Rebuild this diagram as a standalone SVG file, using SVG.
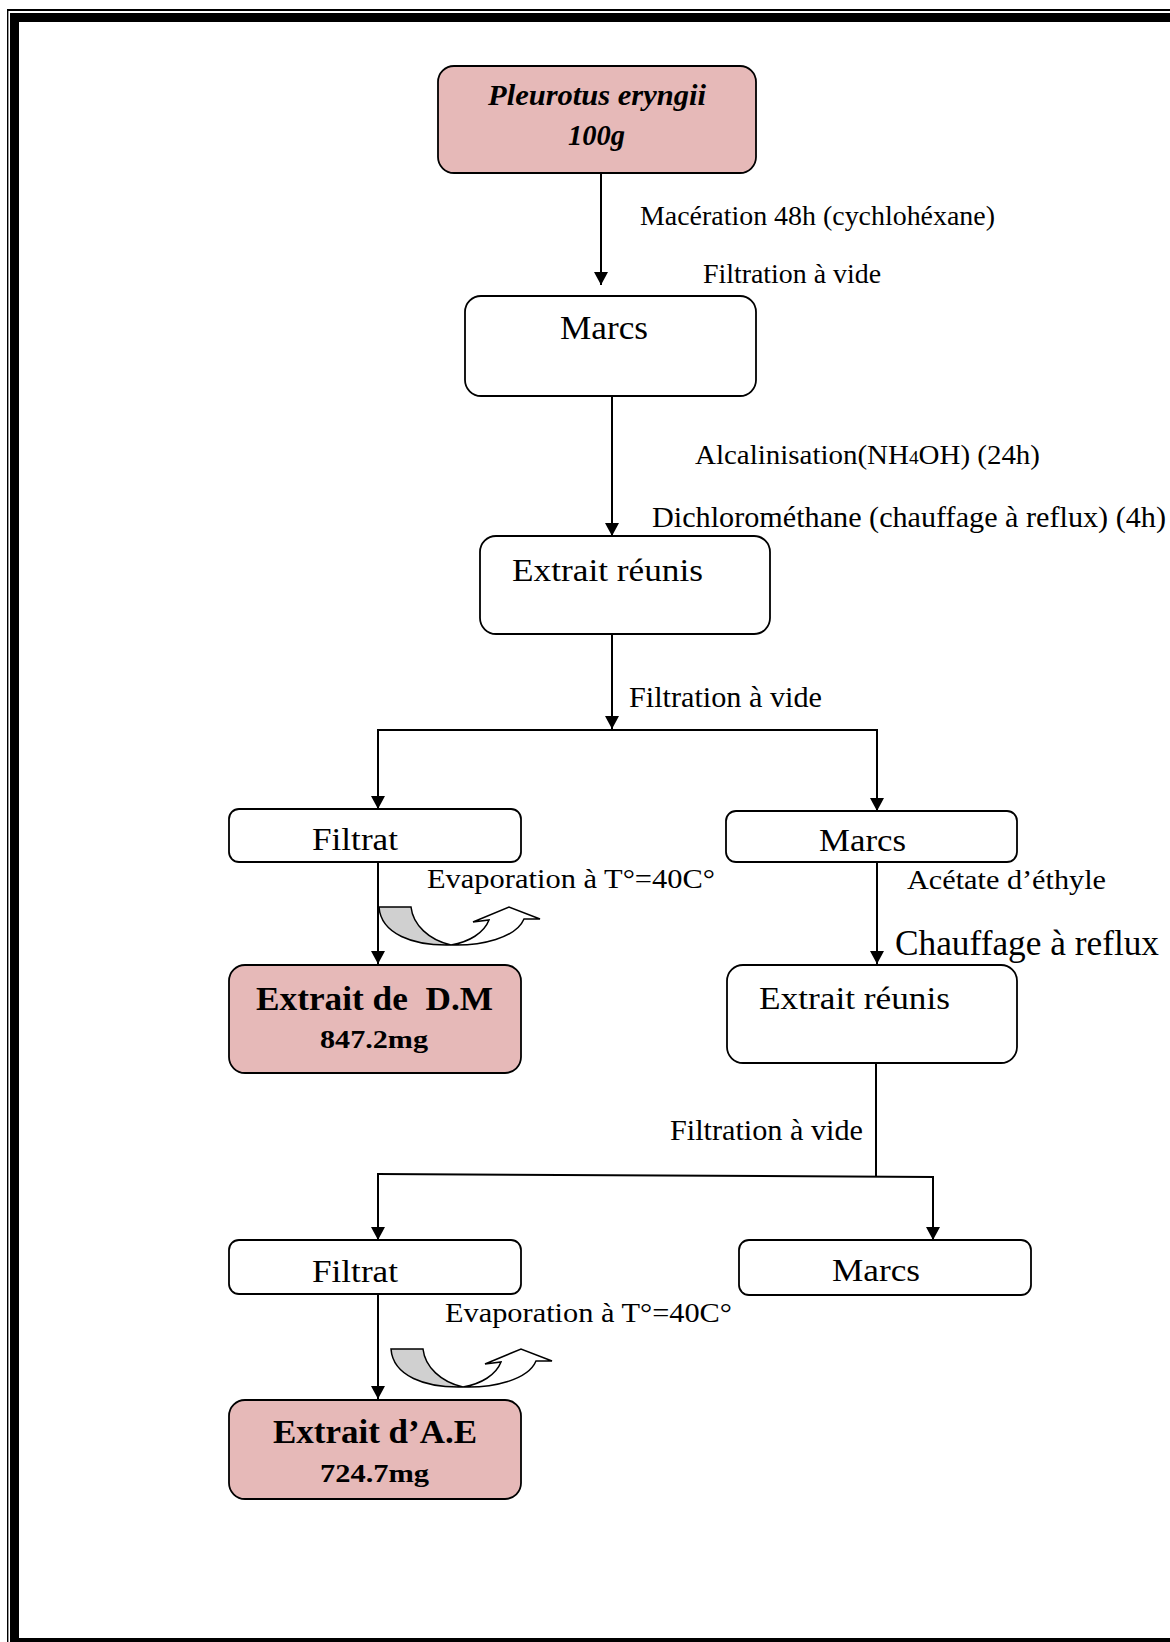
<svg xmlns="http://www.w3.org/2000/svg" xmlns:xlink="http://www.w3.org/1999/xlink" width="1170" height="1642" viewBox="0 0 1170 1642">
<style>
.box{fill:#fff;stroke:#000;stroke-width:1.8}
.pink{fill:#e6b9b8;stroke:#000;stroke-width:1.8}
.t{font-family:"Liberation Serif","Times New Roman",serif;fill:#000;white-space:pre}
.b{font-weight:bold}
.bi{font-weight:bold;font-style:italic}
.ln{fill:none;stroke:#000;stroke-width:2}
.arr{fill:none;stroke:#000;stroke-width:2;marker-end:url(#ah)}
</style>
<defs>
<marker id="ah" markerUnits="userSpaceOnUse" markerWidth="16" markerHeight="16" refX="13" refY="7" orient="auto">
<path d="M0,0 L13,7 L0,14 Z" fill="#000"/>
</marker>
<g id="evap">
<path d="M0,0 H32 C34,18 50,33 72,38 C34,39 2,27 0,0 Z" fill="#d0d0d0" stroke="#000" stroke-width="1.5"/>
<path d="M72,38 C102,39 137,31 145,12 L161,12 L130,0 L94,15 L110,13 C105,26 90,35 72,38 Z" fill="#fff" stroke="#000" stroke-width="1.5"/>
</g>
<clipPath id="clipAE"><rect x="229" y="1400" width="292" height="87"/></clipPath>
</defs>
<rect width="1170" height="1642" fill="#fff"/>
<g id="border" fill="#000">
<rect x="7" y="9" width="1.4" height="1633"/>
<rect x="7" y="9" width="1163" height="2"/>
<rect x="10" y="13" width="9" height="1629"/>
<rect x="10" y="13" width="1160" height="9"/>
<rect x="10" y="1638" width="1160" height="4"/>
</g>
<g id="connectors">
<line class="arr" x1="601" y1="173" x2="601" y2="285"/>
<line class="arr" x1="612" y1="396" x2="612" y2="536"/>
<line class="arr" x1="612" y1="634" x2="612" y2="729"/>
<line class="ln" x1="377" y1="730" x2="878" y2="730"/>
<line class="arr" x1="378" y1="730" x2="378" y2="809"/>
<line class="arr" x1="877" y1="729" x2="877" y2="811"/>
<line class="arr" x1="378" y1="862" x2="378" y2="964"/>
<line class="arr" x1="877" y1="862" x2="877" y2="964"/>
<line class="ln" x1="876" y1="1063" x2="876" y2="1176"/>
<polyline class="ln" points="377,1174 933,1177"/>
<line class="arr" x1="378" y1="1173" x2="378" y2="1240"/>
<line class="arr" x1="933" y1="1176" x2="933" y2="1240"/>
<line class="arr" x1="378" y1="1294" x2="378" y2="1399"/>
</g>
<g id="labels">
<text class="t" x="640" y="225" font-size="27" textLength="355" lengthAdjust="spacingAndGlyphs">Macération 48h (cychlohéxane)</text>
<text class="t" x="703" y="283" font-size="27" textLength="178" lengthAdjust="spacingAndGlyphs">Filtration à vide</text>
<text class="t" x="695" y="464" font-size="27" textLength="345" lengthAdjust="spacingAndGlyphs">Alcalinisation(NH<tspan font-size="18">4</tspan>OH) (24h)</text>
<text class="t" x="652" y="527" font-size="29" textLength="514" lengthAdjust="spacingAndGlyphs">Dichlorométhane (chauffage à reflux) (4h)</text>
<text class="t" x="629" y="707" font-size="29" textLength="193" lengthAdjust="spacingAndGlyphs">Filtration à vide</text>
<text class="t" x="427" y="888" font-size="27" textLength="288" lengthAdjust="spacingAndGlyphs">Evaporation à T°=40C°</text>
<text class="t" x="907" y="889" font-size="27" textLength="199" lengthAdjust="spacingAndGlyphs">Acétate d’éthyle</text>
<text class="t" x="895" y="955" font-size="35" textLength="264" lengthAdjust="spacingAndGlyphs">Chauffage à reflux</text>
<text class="t" x="670" y="1140" font-size="29" textLength="193" lengthAdjust="spacingAndGlyphs">Filtration à vide</text>
<text class="t" x="445" y="1322" font-size="27" textLength="287" lengthAdjust="spacingAndGlyphs">Evaporation à T°=40C°</text>
</g>
<g id="evap1"><use xlink:href="#evap" x="379" y="907"/></g>
<g id="evap2"><use xlink:href="#evap" x="391" y="1349"/></g>
<g id="n-pleurotus">
<rect class="pink" x="438" y="66" width="318" height="107" rx="16"/>
<text class="t bi" x="488" y="105" font-size="29" textLength="218" lengthAdjust="spacingAndGlyphs">Pleurotus eryngii</text>
<text class="t bi" x="568" y="145" font-size="29" textLength="57" lengthAdjust="spacingAndGlyphs">100g</text>
</g>
<g id="n-marcs1">
<rect class="box" x="465" y="296" width="291" height="100" rx="16"/>
<text class="t" x="560" y="339" font-size="33" textLength="88" lengthAdjust="spacingAndGlyphs">Marcs</text>
</g>
<g id="n-extrait1">
<rect class="box" x="480" y="536" width="290" height="98" rx="16"/>
<text class="t" x="512" y="581" font-size="32" textLength="191" lengthAdjust="spacingAndGlyphs">Extrait réunis</text>
</g>
<g id="n-filtrat1">
<rect class="box" x="229" y="809" width="292" height="53" rx="10"/>
<text class="t" x="312" y="850" font-size="32" textLength="86" lengthAdjust="spacingAndGlyphs">Filtrat</text>
</g>
<g id="n-marcs2">
<rect class="box" x="726" y="811" width="291" height="51" rx="10"/>
<text class="t" x="819" y="851" font-size="32" textLength="87" lengthAdjust="spacingAndGlyphs">Marcs</text>
</g>
<g id="n-dm">
<rect class="pink" x="229" y="965" width="292" height="108" rx="16"/>
<text class="t b" x="256" y="1010" font-size="34" textLength="237" lengthAdjust="spacingAndGlyphs">Extrait de  D.M</text>
<text class="t b" x="320" y="1048" font-size="26" textLength="108" lengthAdjust="spacingAndGlyphs">847.2mg</text>
</g>
<g id="n-extrait2">
<rect class="box" x="727" y="965" width="290" height="98" rx="16"/>
<text class="t" x="759" y="1009" font-size="32" textLength="191" lengthAdjust="spacingAndGlyphs">Extrait réunis</text>
</g>
<g id="n-filtrat2">
<rect class="box" x="229" y="1240" width="292" height="54" rx="10"/>
<text class="t" x="312" y="1282" font-size="32" textLength="86" lengthAdjust="spacingAndGlyphs">Filtrat</text>
</g>
<g id="n-marcs3">
<rect class="box" x="739" y="1240" width="292" height="55" rx="10"/>
<text class="t" x="832" y="1281" font-size="32" textLength="88" lengthAdjust="spacingAndGlyphs">Marcs</text>
</g>
<g id="n-ae">
<rect class="pink" x="229" y="1400" width="292" height="99" rx="16"/>
<text class="t b" x="273" y="1443" font-size="34" textLength="204" lengthAdjust="spacingAndGlyphs">Extrait d’A.E</text>
<text class="t b" x="320" y="1482" font-size="26" textLength="109" lengthAdjust="spacingAndGlyphs" clip-path="url(#clipAE)">724.7mg</text>
</g>
</svg>
